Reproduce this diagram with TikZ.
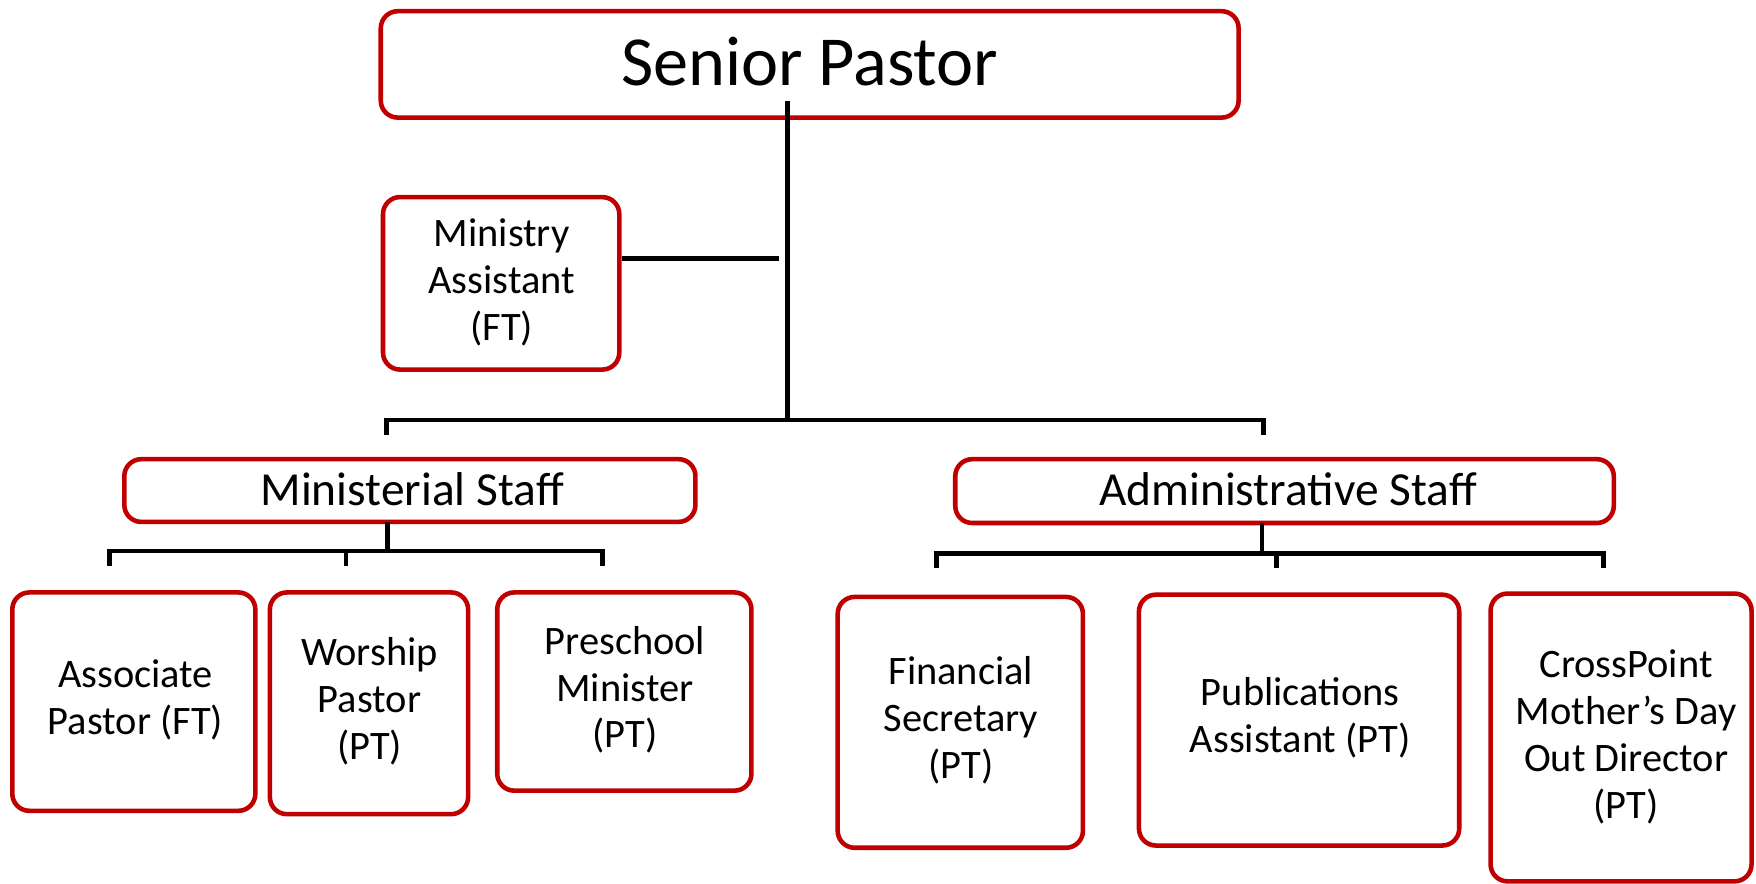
\documentclass[tikz,border=0pt]{standalone}
\usepackage{fontspec}
\setmainfont{Carlito}
\usetikzlibrary{fit}
\definecolor{boxred}{HTML}{C00000}
\begin{document}
\begin{tikzpicture}[x=0.0112cm,y=-0.0112cm,
  box/.style={draw=boxred, line width=1.3pt, rounded corners=0.17cm, fill=white, inner sep=0pt},
  lbl/.style={align=center, font=\fontsize{11.5}{13.3}\selectfont, inner sep=0pt},
  big/.style={align=center, font=\fontsize{13.5}{15}\selectfont, inner sep=0pt},
  conn/.style={line width=1.3pt, black}]
\useasboundingbox (0,0) rectangle (1568,789);
\clip (0,0) rectangle (1568,789);
% boxes
\node[box, fit={(340,10)(1106,105)}] (sp) {};
\node[box, fit={(342,176)(553,330)}] (ma) {};
\node[box, fit={(111,410)(621,466)}] (ms) {};
\node[box, fit={(853,410)(1441,467)}] (as) {};
\node[box, fit={(11,529)(228,724)}] (ap) {};
\node[box, fit={(241,529)(418,727)}] (wp) {};
\node[box, fit={(444,529)(671,706)}] (pm) {};
\node[box, fit={(748,533)(967,757)}] (fs) {};
\node[box, fit={(1017,531)(1303,755)}] (pa) {};
\node[box, fit={(1331,530)(1564,787)}] (cp) {};
% texts
\node[font=\fontsize{20}{24}\selectfont, inner sep=0pt] (spt) at (723,55) {Senior Pastor};
\node[lbl] (mat) at (448,252) {Ministry\\Assistant\\(FT)};
\node[big] (mst) at (368,437) {Ministerial Staff};
\node[big] (ast) at (1150,437) {Administrative Staff};
\node[lbl] (apt) at (121,625) {Associate\\Pastor (FT)};
\node[lbl] (wpt) at (330,626) {Worship\\Pastor\\(PT)};
\node[lbl] (pmt) at (558,616) {Preschool\\Minister\\(PT)};
\node[lbl] (fst) at (858,643) {Financial\\Secretary\\(PT)};
\node[lbl] (pat) at (1161,641) {Publications\\Assistant (PT)};
\node[lbl] (cpt) at (1452,658) {CrossPoint\\Mother's Day\\Out Director\\(PT)};
% connector coordinates
\coordinate (stem) at (703,90);
\coordinate (j1) at (703,375);
\coordinate (maend) at (696,231);
\coordinate (bl) at (345,388);
\coordinate (br) at (1128,388);
\coordinate (msb) at (346,466);
\coordinate (mj) at (346,492);
\coordinate (apj) at (98,505);
\coordinate (wpj) at (309,505);
\coordinate (pmj) at (538,505);
\coordinate (asb) at (1127,467);
\coordinate (aj) at (1127,494);
\coordinate (fsj) at (836,507);
\coordinate (paj) at (1140,507);
\coordinate (cpj) at (1432,507);
% connectors
\draw[conn] (stem) -- (j1);
\draw[conn] (maend -| ma.east) -- (maend);
\draw[conn] (bl) |- (j1) -| (br);
\draw[conn] (msb) -- (mj);
\draw[conn] (apj) |- (mj) -| (pmj);
\draw[conn] (wpj) -- (wpj |- mj);
\draw[conn] (asb) -- (aj);
\draw[conn] (fsj) |- (aj) -| (cpj);
\draw[conn] (paj) -- (paj |- aj);
\end{tikzpicture}
\end{document}
